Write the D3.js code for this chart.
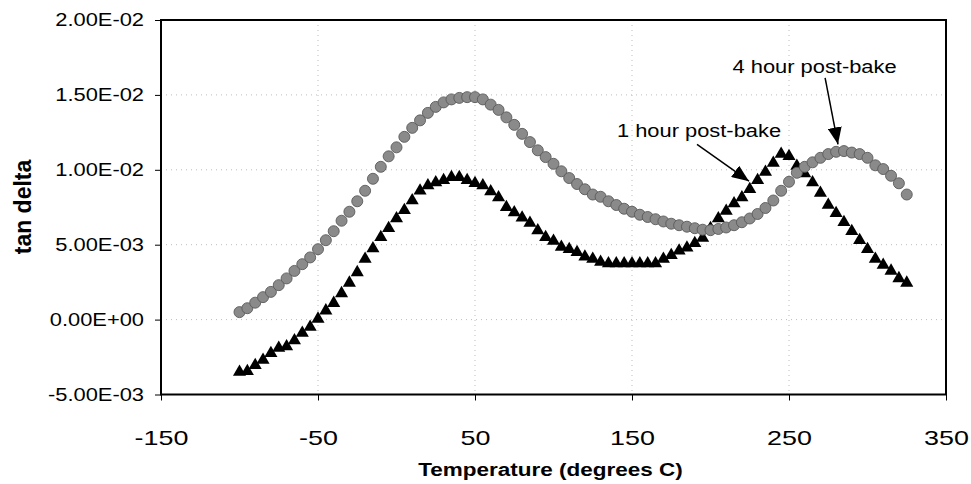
<!DOCTYPE html>
<html><head><meta charset="utf-8">
<script src="https://cdn.jsdelivr.net/npm/d3@7"></script>
<style>body{margin:0;background:#fff} svg{display:block;font-family:"Liberation Sans",Arial,sans-serif}</style>
</head><body><svg id="c" width="971" height="484"></svg>
<script>
// Temperature (degrees C)
const temperature = [-100,-95,-90,-85,-80,-75,-70,-65,-60,-55,-50,-45,-40,-35,-30,-25,-20,-15,-10,-5,
  0,5,10,15,20,25,30,35,40,45,50,55,60,65,70,75,80,85,90,95,100,105,110,115,120,125,130,135,140,145,
  150,155,160,165,170,175,180,185,190,195,200,205,210,215,220,225,230,235,240,245,250,255,260,265,270,
  275,280,285,290,295,300,305,310,315,320,325];
// tan delta, in units of 1E-03
const oneHourE3 = [-3.5,-3.45,-3.05,-2.7,-2.25,-1.9,-1.8,-1.4,-0.9,-0.5,0.05,0.6,1.1,1.75,2.45,3.15,4.05,4.75,5.5,6.1,
  6.75,7.3,7.95,8.6,8.95,9.15,9.3,9.5,9.5,9.3,9.1,8.95,8.55,8.15,7.5,7.15,6.8,6.45,5.95,5.5,5.25,4.85,4.7,4.5,4.2,4.05,3.85,3.75,3.75,3.75,
  3.75,3.75,3.75,3.75,4.05,4.3,4.6,4.8,5.1,5.45,6.1,6.75,7.25,7.75,8.15,8.7,9.3,9.85,10.45,11.05,10.9,10.25,9.75,9.15,8.45,
  7.65,7.1,6.5,5.9,5.3,4.7,4.05,3.65,3.25,2.75,2.45];
const fourHourE3 = [0.5,0.76,1.13,1.5,1.85,2.3,2.75,3.25,3.7,4.15,4.7,5.3,5.9,6.6,7.2,7.9,8.6,9.4,10.2,10.9,
  11.5,12.2,12.8,13.3,13.8,14.2,14.5,14.7,14.8,14.85,14.85,14.7,14.35,14.0,13.5,13.0,12.4,11.85,11.3,10.85,10.4,9.9,9.45,9.05,8.7,8.35,8.2,7.9,7.65,7.4,
  7.2,7.0,6.85,6.7,6.55,6.4,6.3,6.2,6.1,6.0,5.97,6.05,6.15,6.3,6.5,6.75,7.05,7.45,7.95,8.6,9.2,9.8,10.2,10.5,10.8,
  11.05,11.2,11.25,11.15,11.05,10.8,10.3,10.05,9.6,9.1,8.35];

const xTicks = [-150,-50,50,150,250,350];
const xTickLabels = ["-150","-50","50","150","250","350"];
const yTicksE3 = [-5,0,5,10,15,20];
const yTickLabels = ["-5.00E-03","0.00E+00","5.00E-03","1.00E-02","1.50E-02","2.00E-02"];

const annotations = [
  {text:"4 hour post-bake", tx:214, ty:16.45, x1:273, y1:16.14, x2:281.2, y2:11.7},
  {text:"1 hour post-bake", tx:140.4, ty:12.17, x1:191.4, y1:11.7, x2:224.5, y2:9.24}
];

const svg = d3.select('#c');
const M = {l:161, r:946, t:20, b:394.5};
const x = d3.scaleLinear().domain([-150,350]).range([M.l, M.r]);
const y = d3.scaleLinear().domain([-5,20]).range([M.b, M.t]);

function stretch(sel, k){
  sel.each(function(){
    const w = this.getComputedTextLength();
    d3.select(this).attr('textLength', w*k).attr('lengthAdjust','spacingAndGlyphs');
  });
}

// gridlines
svg.append('g').selectAll('line').data(xTicks.slice(1,-1)).join('line')
  .attr('x1',d=>x(d)).attr('x2',d=>x(d)).attr('y1',M.t).attr('y2',M.b)
  .attr('stroke','#bdbdbd').attr('stroke-width',1).attr('stroke-dasharray','1,4');
svg.append('g').selectAll('line').data(yTicksE3.slice(1,-1)).join('line')
  .attr('y1',d=>y(d)).attr('y2',d=>y(d)).attr('x1',M.l).attr('x2',M.r)
  .attr('stroke','#bdbdbd').attr('stroke-width',1).attr('stroke-dasharray','1,4');

// axes
const gy = svg.append('g').attr('transform',`translate(${M.l},0)`)
  .call(d3.axisLeft(y).tickValues(yTicksE3).tickFormat((d,i)=>yTickLabels[i]).tickSize(6).tickPadding(11));
gy.select('.domain').remove();
gy.selectAll('line').attr('stroke','#000');
gy.selectAll('text').attr('font-size',17.5).attr('fill','#000').attr('font-family','"Liberation Sans",Arial,sans-serif').call(stretch,1.25);

const gx = svg.append('g').attr('transform',`translate(0,${M.b})`)
  .call(d3.axisBottom(x).tickValues(xTicks).tickFormat((d,i)=>xTickLabels[i]).tickSize(6).tickPadding(30));
gx.select('.domain').remove();
gx.selectAll('line').attr('stroke','#000');
gx.selectAll('text').attr('font-size',21).attr('fill','#000').attr('font-family','"Liberation Sans",Arial,sans-serif').call(stretch,1.28);

// border
svg.append('rect').attr('x',M.l).attr('y',M.t).attr('width',M.r-M.l).attr('height',M.b-M.t)
  .attr('fill','none').attr('stroke','#000').attr('stroke-width',2);

// series: triangles (1 hour)
const tri = d3.symbol().type(d3.symbolTriangle).size(74);
svg.append('g').selectAll('path').data(temperature).join('path')
  .attr('d',tri).attr('transform',(d,i)=>`translate(${x(d)},${y(oneHourE3[i])})`)
  .attr('fill','#000');
// circles (4 hour)
svg.append('g').selectAll('circle').data(temperature).join('circle')
  .attr('cx',d=>x(d)).attr('cy',(d,i)=>y(fourHourE3[i])).attr('r',5.5)
  .attr('fill','#8a8a8a').attr('stroke','#5a5a5a').attr('stroke-width',0.9);

// axis titles
svg.append('text').attr('x',(M.l+M.r)/2 - 3).attr('y',476).attr('text-anchor','middle')
  .attr('font-weight','bold').attr('font-size',18).text('Temperature (degrees C)').call(stretch,1.25);
svg.append('text').attr('transform','translate(31,207) rotate(-90)')
  .attr('text-anchor','middle').attr('font-weight','bold').attr('font-size',23).text('tan delta');

// annotations
const defs = svg.append('defs');
defs.append('marker').attr('id','ah').attr('markerUnits','userSpaceOnUse')
  .attr('markerWidth',18).attr('markerHeight',14).attr('refX',17).attr('refY',7).attr('orient','auto')
  .append('path').attr('d','M0,0 L17,7 L0,14 Z').attr('fill','#000');
const ga = svg.append('g');
ga.selectAll('line').data(annotations).join('line')
  .attr('x1',d=>x(d.x1)).attr('y1',d=>y(d.y1)).attr('x2',d=>x(d.x2)).attr('y2',d=>y(d.y2))
  .attr('stroke','#000').attr('stroke-width',1.5).attr('marker-end','url(#ah)');
ga.selectAll('text').data(annotations).join('text')
  .attr('x',d=>x(d.tx)).attr('y',d=>y(d.ty)).attr('font-size',17.5).text(d=>d.text).call(stretch,1.25);
</script></body></html>
